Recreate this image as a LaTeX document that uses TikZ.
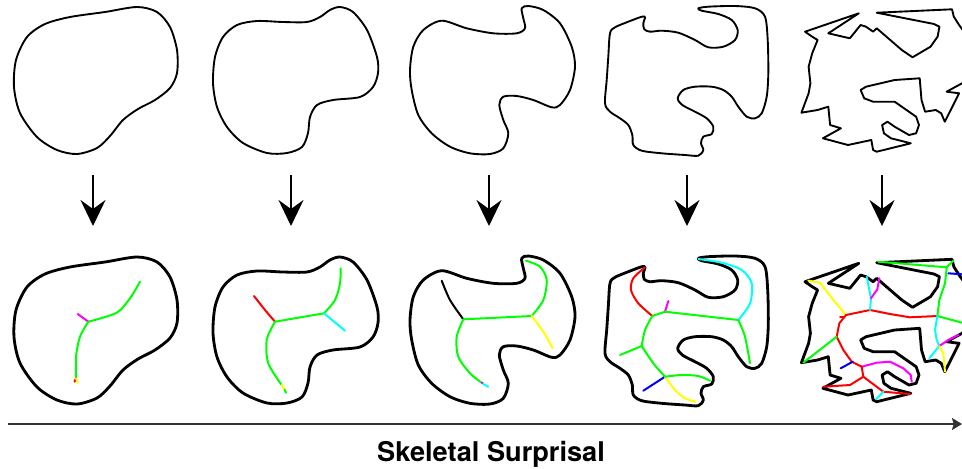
\documentclass[tikz,border=0pt]{standalone}
\usepackage{fontspec}
\newfontfamily\axisfont{TeX Gyre Heros}
\usetikzlibrary{arrows.meta}
\definecolor{skgreen}{RGB}{0,255,0}
\definecolor{skred}{RGB}{255,0,0}
\definecolor{skcyan}{RGB}{0,255,255}
\definecolor{skmagenta}{RGB}{255,0,255}
\definecolor{skyellow}{RGB}{255,255,0}
\definecolor{skblue}{RGB}{0,0,255}

\begin{document}
\begin{tikzpicture}[x=0.03cm, y=-0.03cm,
    outline/.style={draw=black, line join=round},
    skel/.style={line width=1.7pt, line cap=round, line join=round},
    downarrow/.style={line width=2.1pt, -{Stealth[length=0.78cm, width=0.75cm, inset=0.27cm]}},
    axis/.style={line width=1.7pt, draw=black!80, -{Stealth[length=0.3cm, width=0.36cm, inset=0.05cm]}}]
    \useasboundingbox (0,0) rectangle (962,468);
    \clip (0,0) rectangle (962,468);

    % outlines: top row, then the same outlines in the bottom row
    \foreach \dy/\wd in {0/1.6pt, 250/2.4pt} {
      \begin{scope}[shift={(0,\dy)}, line width=\wd]
        \draw[outline] plot[smooth cycle] coordinates {(137,7) (157,12) (170,27) (177,50) (177,73) (170,88) (155,100) (138,109) (123,120) (110,136) (97,148) (77,154) (57,150) (37,137) (20,113) (14,87) (16,60) (27,37) (45,24) (70,17) (105,12)};
        \draw[outline] plot[smooth cycle] coordinates {(340,7) (353,12) (367,30) (377,57) (378,73) (373,87) (360,97) (333,100) (317,105) (310,117) (308,133) (302,147) (287,153) (267,153) (243,143) (227,127) (217,107) (213,83) (215,57) (223,37) (237,25) (257,21) (283,22) (307,22) (320,17) (330,10)};
        \draw[outline] plot[smooth cycle] coordinates {(441.7,20.7) (466.7,28.3) (493.3,33.3) (516.7,33.3) (525,28.3) (523.3,18.3) (521.7,8.3) (528.3,6) (543.3,10) (560,23.3) (571.7,46.7) (575,66.7) (570,90) (560,105) (551.7,107.3) (533.3,100) (516.7,96) (503.3,96.7) (499.3,105) (503.3,120) (508.3,133.3) (503.3,148.3) (490,154) (470,153.3) (450,146.7) (431.7,133.3) (418.3,115) (411.7,90) (410,70) (413.3,46.7) (423.3,30)};
        \draw[outline] plot[smooth cycle] coordinates {(645,17.3) (643.3,23.3) (644.3,29.3) (650,31.7) (661.7,30.7) (678.3,32.7) (695,40) (708.3,47.3) (723.3,46.7) (735,40) (737.7,30) (731.7,20) (718.3,14) (701.7,10.7) (698.3,8.3) (708.3,6.7) (735,6) (755,8.3) (765,16.7) (767.7,40) (768.3,73.3) (766.7,96.7) (761.7,113.3) (755,118.3) (746.7,116.7) (738.3,106.7) (731.7,96.7) (723.3,90) (711.7,86.7) (695,86.7) (683.3,90) (677.7,98.3) (682.3,105) (695,111.7) (706.7,118.3) (713.3,126.7) (711.7,134) (703.3,136.7) (701,143.3) (703.3,150) (698.3,155.7) (685,155) (661.7,153.3) (641.7,150.7) (633.3,145) (632.3,135) (628.3,125) (620,118.3) (610,111.7) (605,103.3) (606.7,80) (608.3,56.7) (610,33.3) (615,27.3) (628.3,21.7) (641.7,16.7)};
        \draw[outline] plot[sharp cycle] coordinates {(805,31.7) (858.8,13.3) (828.3,33.3) (849.8,38.3) (855.2,31.7) (860.6,25) (866,26.7) (873.1,31.7) (876.7,28.3) (901.8,50) (912.5,57.3) (930.5,46.7) (937.6,36.7) (939.4,26.7) (934.1,24) (876.7,12.7) (952,9.3) (953.8,16.7) (959.1,25) (970,40) (972,75) (962,83.3) (946.6,91.7) (959.1,93.3) (944.8,121.7) (941.2,113.3) (935.8,110) (925.1,111.7) (921.5,100) (919.7,78.3) (894.6,80) (866,86.7) (860.6,90) (864.2,98.3) (873.1,101.7) (894.6,101.7) (916.1,116.7) (919,125) (916.1,133.3) (909,135) (894.6,126.7) (887.5,121.7) (882.1,125) (883.9,133.3) (891,138.3) (910.8,143.3) (876.7,151.7) (873.1,150) (871.3,140) (848,145) (822.9,138.3) (840.9,128.3) (830.1,125) (828.3,106.7) (817.6,110) (801.4,112.7) (808.6,93.3) (810.4,83.3) (808.6,66.7) (812.2,53.3) (817.6,40) (812.2,36.7)};
      \end{scope}
    }

    % down arrows between the rows
    \foreach \i/\x in {1/93, 2/291, 3/489, 4/687, 5/882} {
      \coordinate (src\i) at (\x,175);
      \coordinate (dst\i) at (\x,226);
      \draw[downarrow] (src\i) -- (dst\i);
    }

    % skeleton 1
    \draw[skel, skgreen] plot[smooth] coordinates {(140,281.7) (130,298.3) (116.7,312.7) (88.3,321.7)};
    \draw[skel, skmagenta] (88.3,321.7) -- (77.7,314);
    \draw[skel, skgreen] plot[smooth] coordinates {(88.3,321.7) (80,336.7) (76,356.7) (76,378.3)};
    \draw[skel, skred] (76,378.3) -- (74.5,381.7);
    \draw[skel, skyellow] (76,378.3) -- (77.7,382.7);

    % skeleton 2
    \draw[skel, skred] plot[smooth] coordinates {(254,296) (265,310) (275,321.7)};
    \draw[skel, skgreen] (275,321.7) -- (324,313.3);
    \draw[skel, skgreen] plot[smooth] coordinates {(324,313.3) (335,300) (340,283.3) (340.7,268.3)};
    \draw[skel, skcyan] (324,313.3) -- (345,330.7);
    \draw[skel, skgreen] plot[smooth] coordinates {(275,321.7) (266.7,340) (268.3,363.3) (281.7,385)};
    \draw[skel, skyellow] (281.7,385) -- (284.5,389.5);
    \draw[skel, skgreen] (284.5,389.5) -- (286,392.7);

    % skeleton 3
    \draw[skel, black] plot[smooth] coordinates {(441.7,280.7) (450,300) (463.3,319.3)};
    \draw[skel, skgreen] (463.3,319.3) -- (531.7,316);
    \draw[skel, skgreen] plot[smooth] coordinates {(531.7,316) (543.3,300) (546.7,280) (540,266.7) (526,260.7)};
    \draw[skel, skyellow] plot[smooth] coordinates {(531.7,316) (543.3,331.7) (552.7,348.3)};
    \draw[skel, skgreen] plot[smooth] coordinates {(463.3,319.3) (456.7,336.7) (458.3,356.7) (470,373.3) (481.7,382.7)};
    \draw[skel, skmagenta] (481.7,382.7) -- (483,383.3);
    \draw[skel, skcyan] (483.3,384) -- (488.3,386.7);

    % skeleton 4
    \draw[skel, skred] plot[smooth] coordinates {(645,267.3) (633.3,278.3) (631,290) (638.3,303.3) (652.3,316)};
    \draw[skel, skgreen] (652.3,316) -- (665,311.7);
    \draw[skel, skmagenta] (665,311.7) -- (668.3,301);
    \draw[skel, skgreen] (665,311.7) -- (738.3,320);
    \draw[skel, skcyan] plot[smooth] coordinates {(738.3,320) (750,303.3) (751.7,283.3) (741.7,270) (721.7,262.7) (698.3,259)};
    \draw[skel, skgreen] plot[smooth] coordinates {(738.3,320) (745,336.7) (750,363.3)};
    \draw[skel, skgreen] plot[smooth] coordinates {(652.3,316) (645,330) (641.7,346)};
    \draw[skel, skgreen] (641.7,346) -- (620,355);
    \draw[skel, skgreen] plot[smooth] coordinates {(641.7,346) (653.3,363.3) (665,376.7)};
    \draw[skel, skblue] (665,376.7) -- (643.3,390.7);
    \draw[skel, skyellow] plot[smooth] coordinates {(665,376.7) (675,390) (685,398.3) (695.7,401.7)};
    \draw[skel, skgreen] plot[smooth] coordinates {(665,376.7) (681.7,375) (698.3,376) (710,380.7)};

    % skeleton 5
    \draw[skel, skyellow] (808.3,280.7) -- (820,282.7) -- (833.3,300) -- (846,315);
    \draw[skel, skred] (846,315) -- (870,310) -- (890,314) -- (910,317.3) -- (937.3,316);
    \draw[skel, skred] (840,317.3) -- (844,317.3);
    \draw[skel, skcyan] (870,310) -- (871,298.3) -- (866.7,276.7);
    \draw[skel, skmagenta] (871,298.3) -- (877.3,289.3) -- (879.3,278.3);
    \draw[skel, skgreen] (937.3,316) -- (939.3,300) -- (945,283.3) -- (946.7,267.3) -- (953.3,260.7);
    \draw[skel, skgreen] (946.7,267.3) -- (878.3,261.7);
    \draw[skel, skblue] (948.3,273.3) -- (962,274.3);
    \draw[skel, skgreen] (937.3,316) -- (965,323.5);
    \draw[skel, skcyan] (937.3,316) -- (935,330) -- (936.7,340) -- (939.3,346) -- (933.3,353.3) -- (929.3,358.3);
    \draw[skel, skmagenta] (939.3,346) -- (948.3,340) -- (958.3,335);
    \draw[skel, skyellow] (939.3,346) -- (943.3,353.3) -- (945,371.7);
    \draw[skel, skred] (846,315) -- (839.3,323.3) -- (836.7,336.7) -- (843.3,350) -- (851.7,361.7) -- (861.7,366.7);
    \draw[skel, skgreen] (836.7,336.7) -- (803.3,362.7);
    \draw[skel, skblue] (852.7,361.7) -- (840.7,368.3);
    \draw[skel, skmagenta] (861.7,366.7) -- (876.7,362.7) -- (890,361.7) -- (903.3,368.3) -- (910.7,375) -- (911.7,381.7);
    \draw[skel, skred] (861.7,366.7) -- (863.3,376.7) -- (883.3,391.7) -- (910,394);
    \draw[skel, skred] (863.3,376.7) -- (850,385) -- (823.3,386.7);
    \draw[skel, skcyan] (883.3,391.7) -- (876,399.3);

    % axis and its label
    \coordinate (axstart) at (8,424);
    \coordinate (axend) at (962,424);
    \draw[axis] (axstart) -- (axend);
    \node[font=\axisfont\bfseries\fontsize{23.2}{28}\selectfont, anchor=base] (axlabel) at (491,461) {Skeletal Surprisal};
\end{tikzpicture}
\end{document}
